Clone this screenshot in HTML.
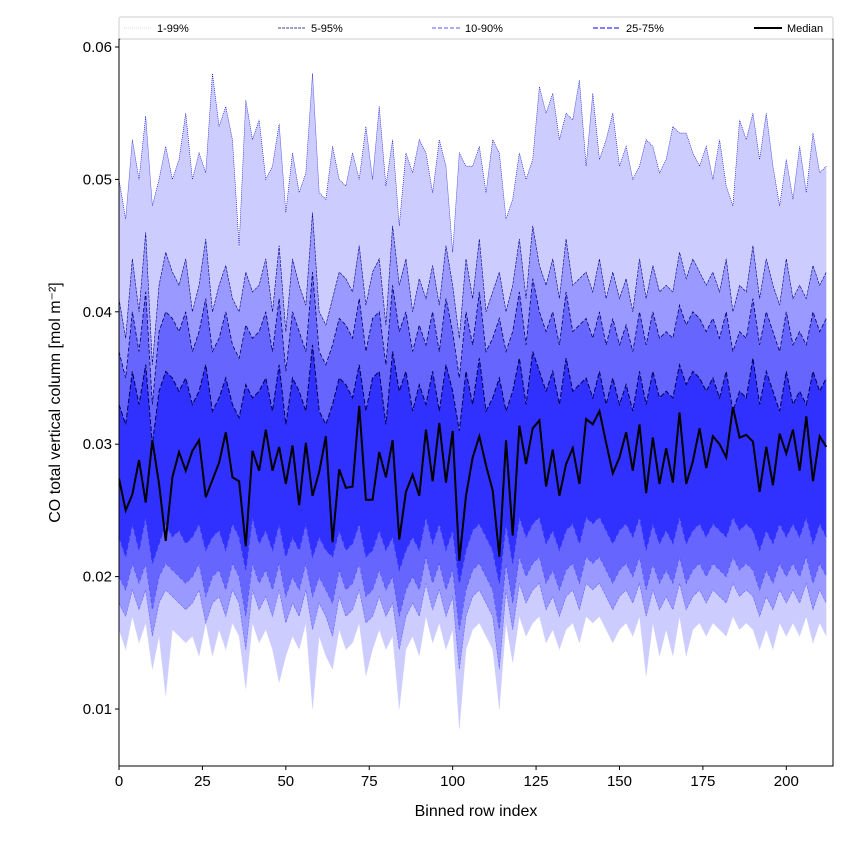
<!DOCTYPE html>
<html><head><meta charset="utf-8"><style>
body{margin:0;background:#fff;font-family:"Liberation Sans",sans-serif}
</style></head><body>
<svg id="chart" width="850" height="850" xmlns="http://www.w3.org/2000/svg" font-family="Liberation Sans, sans-serif"></svg>
<script>
const p1=[16,14.5,17,15,16.5,13,15.5,11,16,15.5,15,15.5,14,16.5,14,16,14.5,16.5,15.5,11.5,16.5,15,16,14.5,12,14,15.5,14.5,16.5,10,15.5,14,13,16,14.5,15,16.5,12.5,14.5,16,14.5,15.5,10,14.5,15.5,14,17,15,16.5,14.5,16,8.5,14.5,16,16.5,15.5,14.5,10,16.5,13.5,17,15.5,16.5,17,15,16,14.5,16,16.5,15,17,16.5,17,16,15,16,16.5,15.5,17,12.5,16.5,14,16,14,17,14,16,16.5,15.5,16.5,16,15.5,17,16,16.5,16,14.5,16,14.5,16.5,15.5,16.5,15.5,17,15,16.5,15.5];
const p5=[18,17,19,17.5,19,15.5,18,19,18.5,18,17.5,18,19,16.5,18,18.5,17,19,18,14.5,19,17.5,18.5,17,19,16.5,18,17,19,16,18,17,15.5,18.5,17,17.5,19,16.5,17,18.5,17,18,14.5,17,18,17,19.5,17.5,19,17,18.5,13,17,18.5,19,18,17,13,19,16,19.5,18,19,19.5,17.5,18.5,17,18.5,19,17.5,19.5,19,19.5,18.5,17.5,18.5,19,18,19.5,17,19,17.5,18.5,17.5,19.5,17.5,18.5,19,18,19,18.5,18,19.5,18.5,19,18.5,17,18.5,17.5,19,18,19,18,19.5,17.5,19,18];
const p10=[20,19,21,19.5,21,17.5,20,21,20.5,20,19.5,20,21,18.5,20,20.5,19,21,20,17,21,19.5,20.5,19,21,18.5,20,19,21,18.5,20,19,18,20.5,19,19.5,21,18.5,19,20.5,19,20,17,19,20,19,21.5,19.5,21,19,20.5,16,19,20.5,21,20,19,16,21,18,21.5,20,21,21.5,19.5,20.5,19,20.5,21,19.5,21.5,21,21.5,20.5,19.5,20.5,21,20,21.5,19,21,19.5,20.5,19.5,21.5,19.5,20.5,21,20,21,20.5,20,21.5,20.5,21,20.5,19,20.5,19.5,21,20,21,20,21.5,19.5,21,20];
const p25=[23,21.5,24,22,24.5,21,22.5,24,23,23.5,22.5,23,24,22,23,23.5,22,24,23,20.5,24.5,22.5,23.5,22,24,21.5,23,22,24,21.5,23,22,21.5,23.5,22,22.5,24,21.5,22,23.5,22,23,20.5,22,23,22,24.5,22.5,24,22,23.5,19.5,22,23.5,24,23,22,19.5,24,21,24.5,23,24,24.5,22.5,23.5,22,23.5,24,22.5,24.5,24,24.5,23.5,22.5,23.5,24,23,24.5,22,24,22.5,23.5,22.5,24.5,22.5,23.5,24,23,24,23.5,23,24.5,23.5,24,23.5,22,23.5,22.5,24,23,24,23,24.5,22.5,24,23];
const median=[27.4,25.0,26.2,28.8,25.6,30.3,27.0,22.7,27.5,29.4,28.0,29.5,30.3,26.0,27.3,28.6,30.9,27.5,27.2,22.3,29.5,28.0,31.1,28.0,29.8,27.0,29.9,25.4,30.1,26.1,27.9,30.6,22.6,28.1,26.7,26.8,32.9,25.8,25.8,29.4,27.5,30.3,22.8,26.4,27.7,26.1,31.1,27.2,31.6,27.1,31.0,21.2,26.1,29.0,30.6,28.4,26.5,21.5,30.3,23.1,31.4,28.5,31.2,31.8,26.8,29.6,26.1,28.5,29.7,27.0,31.9,31.5,32.5,30.1,27.8,29.0,30.9,28.0,31.5,26.3,30.5,27.0,29.7,27.1,32.4,27.0,28.7,31.2,28.2,30.6,30.0,29.0,32.8,30.5,30.7,30.2,26.4,29.8,26.9,30.8,29.3,31.1,28.0,32.1,27.2,30.6,29.8];
const p75=[33,31.5,35.5,33,36,30,34,35.5,35,34,35,33,34,36,32.5,33.5,35,33,32,34.5,33.5,34,35,32.5,36,31.5,35,34,32.5,37.5,32.5,31.5,33,35,34.5,33.5,36,32.5,35,35.5,31.5,37,34,35.5,32.5,34.5,33,35.5,32.5,36,34,31,35.5,33,36.5,32.5,33.5,35,32.5,34,36.5,33,37,35.5,34,35.5,33,36.5,34,34.5,35,33.5,35.5,33,35,33,34.5,32.5,35.5,33,35.5,33.5,34,33.5,36,34.5,35.5,35,34,35,33.5,35.5,32.5,34,33.5,36.5,33,35.5,34,32.5,35.5,33,34,33,35.5,34,35];
const p90=[37,35,40,37,41.5,33,38.5,40,39.5,38.5,40,37,38.5,41,37,38,40,37.5,36.5,39,38,38.5,40,37,41,35.5,40,38.5,37,43,37,36,37.5,39.5,39,38,41,37,39.5,40,36,42,38.5,40,37,39,37.5,40,37,41,38.5,35,40,37.5,41.5,37,38,39.5,37,38.5,41.5,37.5,42.5,40,38.5,40,37.5,41.5,38.5,39,39.5,38,40,37.5,39.5,37.5,39,37,40,37.5,40,38,38.5,38,40.5,39,40,39.5,38.5,39.5,38,40,37,38.5,38,41,37.5,40,38.5,37,40,37.5,38.5,37.5,40,38.5,39.5];
const p95=[41,38,44,40,46,36,42,44.5,43,42,44,40,42,45.5,40,42,43.5,41,40,43,41.5,42,44,40,45,38.5,44,42,40.5,47.5,40,39,41,43,42.5,41.5,45,40.5,43,44,39,46.5,42,44,40,42.5,41,43.5,40.5,45,42,38,44,41,45.5,40,41.5,43,40,42,45.5,41,46.5,43.5,42,44,41,45.5,42,42.5,43,41.5,44,41,43,41,42.5,40,44,41,43.5,41.5,42,41.5,44.5,42.5,44,43,42,43,41.5,44,40,42,41.5,45,41,44,42,40.5,44,41,42,41,43.5,42,43];
const p99=[50,47,53,50,54.8,48,50,52.5,50,51.5,55,50,52,50.5,58,54,55.5,53,45,56,53,54.5,50,51,54.2,47.5,52,49,50.5,58,49,48.5,52.5,50,49.5,52,50,54,50,55.5,49.5,53,46.5,52,50.5,53,52,49,53,51,44.5,52,51,51,52.5,49,53,52,47,48.5,52,50,51.5,57,55,56.5,53,55,54.5,57.5,51,56.5,51.5,53,55,51,52.5,50,51,53,52.5,50.5,51.5,54,53.5,53.5,52,51,52.5,50,53,49.5,48,54.5,53,55,51.5,55,51,48,51.5,48.5,52.5,49,53.5,50.5,51];
const xTicks=[0,25,50,75,100,125,150,175,200];
const yTicks=[0.01,0.02,0.03,0.04,0.05,0.06];
const legendLabels=["1-99%","5-95%","10-90%","25-75%","Median"];

const NS="http://www.w3.org/2000/svg";
const svg=document.getElementById('chart');
const L=119,R=833,T=39,B=766;
const xMin=0,xMax=214,yMin=0.01-(766-709)/13240,yMax=0.01+(709-39)/13240;
const X=v=>L+(v-xMin)/(xMax-xMin)*(R-L);
const Y=v=>B-(v-yMin)/(yMax-yMin)*(B-T);
const n=Math.min(p1.length,p5.length,p10.length,p25.length,median.length,p75.length,p90.length,p95.length,p99.length);
const rowIndex=[];for(let i=0;i<n;i++)rowIndex.push(i*2);
function mk(t,a,p){const e=document.createElementNS(NS,t);for(const k in a)e.setAttribute(k,a[k]);(p||svg).appendChild(e);return e;}
const v=a=>a.map(d=>d/1000);

const clip=mk('clipPath',{id:'pc'});mk('rect',{x:L,y:T,width:R-L,height:B-T},clip);
const g=mk('g',{'clip-path':'url(#pc)'});


function band(lo,hi,color,name){
  lo=v(lo);hi=v(hi);
  let pts=[];for(let i=0;i<n;i++)pts.push(X(rowIndex[i])+','+Y(hi[i]));
  for(let i=n-1;i>=0;i--)pts.push(X(rowIndex[i])+','+Y(lo[i]));
  const p=mk('polygon',{points:pts.join(' '),fill:color},g);
  
  
}
band(p1,p5,'#ccccff','band-1-5');band(p95,p99,'#ccccff','band-95-99');
band(p5,p10,'#9999ff','band-5-10');band(p90,p95,'#9999ff','band-90-95');
band(p10,p25,'#6666ff','band-10-25');band(p75,p90,'#6666ff','band-75-90');
band(p25,p75,'#3030ff','band-25-75');
function line(arr,color,w,dash,name){
  arr=v(arr);let d='';for(let i=0;i<n;i++)d+=(i?'L':'M')+X(rowIndex[i])+' '+Y(arr[i]);
  const p=mk('path',{d:d,fill:'none',stroke:color,'stroke-width':w,'stroke-dasharray':dash},g);
  
  
}
line(p1,'#ccccff',0.6,'1,1','line-p1');line(p99,'#0000cc',0.6,'1,1','line-p99');
line(p5,'#6666ff',0.6,'3,1','line-p5');line(p95,'#000088',0.6,'3,1','line-p95');
line(p10,'#5555ff',0.8,'4,2','line-p10');line(p90,'#000066',0.8,'4,2','line-p90');
line(p25,'#3333ff',1,'5,2','line-p25');line(p75,'#000055',1,'5,2','line-p75');
line(median,'#000',2,'','line-median');

const frame=mk('rect',{x:L,y:T,width:R-L,height:B-T,fill:'none',stroke:'#000','stroke-width':1});


xTicks.forEach(t=>{
  mk('line',{x1:X(t),x2:X(t),y1:B,y2:B+4,stroke:'#000'});
  const tx=mk('text',{x:X(t),y:B+20,'text-anchor':'middle','font-size':15});tx.textContent=t;
  
  
});
yTicks.forEach(t=>{
  mk('line',{x1:L-4,x2:L,y1:Y(t),y2:Y(t),stroke:'#000'});
  const tx=mk('text',{x:L-7,y:Y(t)+5,'text-anchor':'end','font-size':15});tx.textContent=t.toFixed(2);
  
  
});
const xt=mk('text',{x:(L+R)/2,y:816,'text-anchor':'middle','font-size':16});xt.textContent='Binned row index';


const yt=mk('text',{x:0,y:0,'text-anchor':'middle','font-size':16,transform:'translate(60,'+((T+B)/2)+') rotate(-90)'});yt.textContent='CO total vertical column [mol m⁻²]';



const lg=mk('g',{});


mk('rect',{x:119,y:17,width:714,height:22,fill:'#fff',stroke:'#ccc',rx:2},lg);
const lstyles=[['#ccccff','1,1',0.8],['#000088','3,1',0.8],['#5555ff','4,2',1],['#3333ff','5,2',1.2],['#000','',2]];
const lx=[124,278,432,593,754];
legendLabels.forEach((lab,i)=>{
  const [c,d,w]=lstyles[i];
  mk('line',{x1:lx[i],x2:lx[i]+28,y1:28,y2:28,stroke:c,'stroke-width':w,'stroke-dasharray':d},lg);
  const t=mk('text',{x:lx[i]+33,y:32,'font-size':11},lg);t.textContent=lab;
  
  
});
</script>
</body></html>
